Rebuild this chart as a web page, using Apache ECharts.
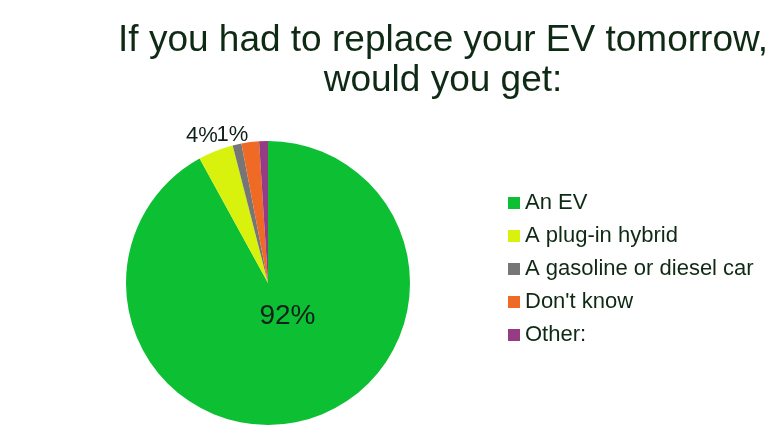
<!DOCTYPE html>
<html>
  <head>
    <meta charset="utf-8">
    <title>Replace your EV</title>
    <script src="https://cdn.jsdelivr.net/npm/echarts@6/dist/echarts.min.js"></script>
    <style>
      html, body { margin: 0; padding: 0; background: #fff; }
      #main { width: 782px; height: 440px; }
    </style>
  </head>
  <body>
    <div id="main"></div>
    <script>
      // answers, clockwise from 12 o'clock
      var answers = ['An EV', 'A plug-in hybrid', 'A gasoline or diesel car', "Don't know", 'Other:'];
      var shares = [92, 4, 1, 2, 1];
      var colors = ['#0cbf33', '#d8f20e', '#767676', '#ef6a25', '#953c84'];
      // which slices carry a % label in the original
      var showLabel = [true, true, true, false, false];

      var chart = echarts.init(document.getElementById('main'));

      var data = answers.map(function (name, i) {
        return {
          name: name,
          value: shares[i],
          label: {
            show: showLabel[i],
            position: i === 0 ? 'inside' : 'outside',
            fontSize: i === 0 ? 28 : 22
          }
        };
      });

      // nudges so labels sit where the original put them
      var nudge = [[1, -38], [10, -8], [18, -2], [0, 0], [0, 0]];

      chart.setOption({
        color: colors,
        title: {
          text: 'If you had to replace your EV tomorrow,\nwould you get:',
          left: 438,
          textAlign: 'center',
          top: 16,
          textStyle: {
            fontFamily: 'Liberation Sans',
            fontWeight: 'normal',
            fontSize: 37,
            lineHeight: 40,
            color: '#0f2a14'
          }
        },
        legend: {
          orient: 'vertical',
          left: 503,
          top: 187,
          icon: 'rect',
          itemWidth: 12,
          itemHeight: 12,
          itemGap: 11,
          textStyle: {
            fontFamily: 'Liberation Sans',
            fontSize: 22,
            color: '#0f2a14'
          },
          data: answers
        },
        series: [{
          type: 'pie',
          center: [268, 283],
          radius: 142,
          startAngle: 90,
          clockwise: true,
          avoidLabelOverlap: false,
          label: {
            formatter: '{c}%',
            fontFamily: 'Liberation Sans',
            fontSize: 22,
            color: '#10201a'
          },
          labelLine: { show: false, length: 8, length2: 0 },
          labelLayout: function (p) {
            var n = nudge[p.dataIndex];
            return { dx: n[0], dy: n[1] };
          },
          emphasis: { disabled: true },
          itemStyle: { borderWidth: 0 },
          data: data
        }]
      });
    </script>
  </body>
</html>
